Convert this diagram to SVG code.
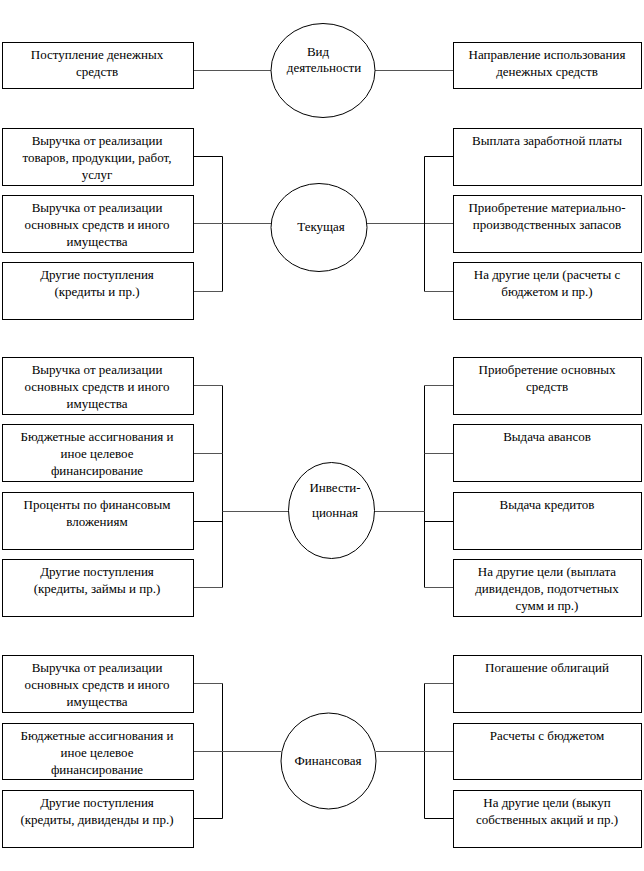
<svg xmlns="http://www.w3.org/2000/svg" width="644" height="871" viewBox="0 0 644 871">
<style>
.box{fill:#fff;stroke:#000;stroke-width:1}
.ell{fill:#fff;stroke:#000;stroke-width:1}
.ln{fill:none;stroke:#000;stroke-width:1}
.dl{fill:none;stroke:#555;stroke-width:1}
text{font-family:"Liberation Serif","DejaVu Serif","Times New Roman",serif;font-size:13px;fill:#000;text-anchor:middle}
</style>
<rect width="644" height="871" fill="#fff"/>
<g id="connectors">
<path class="dl" d="M193.5 70.5H271M375 70.5H453"/>
<path class="ln" d="M193.5 156.5H222.5V291.5"/>
<path class="dl" d="M193.5 291.5H222.5"/>
<path class="dl" d="M193.5 223.5H271"/>
<path class="dl" d="M367 223.5H453"/>
<path class="ln" d="M453 156.5H424.5V291.5"/>
<path class="dl" d="M424.5 291.5H453"/>
<path class="ln" d="M222.5 385.5V587.5"/>
<path class="dl" d="M193.5 385.5H222.5M193.5 453.5H222.5M193.5 587.5H222.5"/>
<path class="ln" d="M193.5 521.5H222.5"/>
<path class="dl" d="M222.5 511.5H289"/>
<path class="ln" d="M424.5 385.5V587.5"/>
<path class="dl" d="M424.5 385.5H453M424.5 453.5H453M424.5 587.5H453"/>
<path class="ln" d="M424.5 521.5H453"/>
<path class="dl" d="M374 511.5H424.5"/>
<path class="dl" d="M193.5 683.5H222.5"/>
<path class="ln" d="M222.5 683.5V818.5H193.5"/>
<path class="dl" d="M193.5 751.5H281"/>
<path class="dl" d="M424.5 683.5H453"/>
<path class="ln" d="M424.5 683.5V818.5H453"/>
<path class="dl" d="M376 751.5H453"/>
</g>

<g id="n-inflow"><rect class="box" x="2.5" y="42.5" width="191" height="46"/><text x="97" y="59">Поступление денежных</text><text x="97" y="76">средств</text></g>
<g id="n-kind"><ellipse class="ell" cx="323" cy="70.5" rx="52" ry="47"/><text x="318" y="56">Вид</text><text x="324" y="72">деятельности</text></g>
<g id="n-outflow"><rect class="box" x="453.5" y="42.5" width="188" height="46"/><text x="547" y="59">Направление использования</text><text x="547" y="76">денежных средств</text></g>

<g id="n-cur"><ellipse class="ell" cx="319" cy="227.5" rx="48" ry="44"/><text x="321" y="231">Текущая</text></g>
<g id="n-cur-l1"><rect class="box" x="2.5" y="128.5" width="191" height="57"/><text x="97" y="145">Выручка от реализации</text><text x="97" y="162">товаров, продукции, работ,</text><text x="97" y="179">услуг</text></g>
<g id="n-cur-l2"><rect class="box" x="2.5" y="195.5" width="191" height="57"/><text x="97" y="212">Выручка от реализации</text><text x="97" y="229">основных средств и иного</text><text x="97" y="246">имущества</text></g>
<g id="n-cur-l3"><rect class="box" x="2.5" y="262.5" width="191" height="57"/><text x="97" y="279">Другие поступления</text><text x="97" y="296">(кредиты и пр.)</text></g>
<g id="n-cur-r1"><rect class="box" x="453.5" y="128.5" width="188" height="57"/><text x="547" y="145">Выплата заработной платы</text></g>
<g id="n-cur-r2"><rect class="box" x="453.5" y="195.5" width="188" height="57"/><text x="547" y="212">Приобретение материально-</text><text x="547" y="229">производственных запасов</text></g>
<g id="n-cur-r3"><rect class="box" x="453.5" y="262.5" width="188" height="57"/><text x="547" y="279">На другие цели (расчеты с</text><text x="547" y="296">бюджетом и пр.)</text></g>

<g id="n-inv"><ellipse class="ell" cx="331.5" cy="510.5" rx="43" ry="48"/><text x="335" y="492">Инвести-</text><text x="335" y="517">ционная</text></g>
<g id="n-inv-l1"><rect class="box" x="2.5" y="357.5" width="191" height="57"/><text x="97" y="374">Выручка от реализации</text><text x="97" y="391">основных средств и иного</text><text x="97" y="408">имущества</text></g>
<g id="n-inv-l2"><rect class="box" x="2.5" y="424.5" width="191" height="57"/><text x="97" y="441">Бюджетные ассигнования и</text><text x="97" y="458">иное целевое</text><text x="97" y="475">финансирование</text></g>
<g id="n-inv-l3"><rect class="box" x="2.5" y="492.5" width="191" height="57"/><text x="97" y="509">Проценты по финансовым</text><text x="97" y="526">вложениям</text></g>
<g id="n-inv-l4"><rect class="box" x="2.5" y="559.5" width="191" height="57"/><text x="97" y="576">Другие поступления</text><text x="97" y="593">(кредиты, займы и пр.)</text></g>
<g id="n-inv-r1"><rect class="box" x="453.5" y="357.5" width="188" height="57"/><text x="547" y="374">Приобретение основных</text><text x="547" y="391">средств</text></g>
<g id="n-inv-r2"><rect class="box" x="453.5" y="424.5" width="188" height="57"/><text x="547" y="441">Выдача авансов</text></g>
<g id="n-inv-r3"><rect class="box" x="453.5" y="492.5" width="188" height="57"/><text x="547" y="509">Выдача кредитов</text></g>
<g id="n-inv-r4"><rect class="box" x="453.5" y="559.5" width="188" height="57"/><text x="547" y="576">На другие цели (выплата</text><text x="547" y="593">дивидендов, подотчетных</text><text x="547" y="610">сумм и пр.)</text></g>

<g id="n-fin"><ellipse class="ell" cx="328.5" cy="761" rx="47.5" ry="48"/><text x="328" y="765">Финансовая</text></g>
<g id="n-fin-l1"><rect class="box" x="2.5" y="655.5" width="191" height="57"/><text x="97" y="672">Выручка от реализации</text><text x="97" y="689">основных средств и иного</text><text x="97" y="706">имущества</text></g>
<g id="n-fin-l2"><rect class="box" x="2.5" y="723.5" width="191" height="56"/><text x="97" y="740">Бюджетные ассигнования и</text><text x="97" y="757">иное целевое</text><text x="97" y="774">финансирование</text></g>
<g id="n-fin-l3"><rect class="box" x="2.5" y="790.5" width="191" height="57"/><text x="97" y="807">Другие поступления</text><text x="97" y="824">(кредиты, дивиденды и пр.)</text></g>
<g id="n-fin-r1"><rect class="box" x="453.5" y="655.5" width="188" height="57"/><text x="547" y="672">Погашение облигаций</text></g>
<g id="n-fin-r2"><rect class="box" x="453.5" y="723.5" width="188" height="56"/><text x="547" y="740">Расчеты с бюджетом</text></g>
<g id="n-fin-r3"><rect class="box" x="453.5" y="790.5" width="188" height="57"/><text x="547" y="807">На другие цели (выкуп</text><text x="547" y="824">собственных акций и пр.)</text></g>
</svg>
